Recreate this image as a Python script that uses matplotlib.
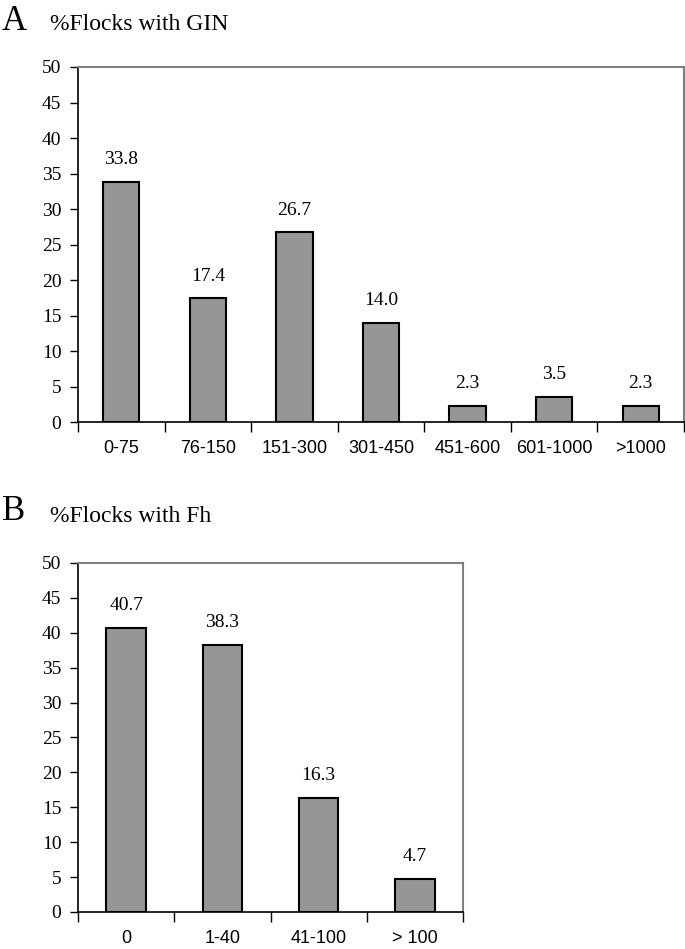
import matplotlib
matplotlib.use("Agg")
import matplotlib.pyplot as plt
import numpy as np

gin_cats = ["0-75", "76-150", "151-300", "301-450", "451-600", "601-1000", ">1000"]
gin_vals = [33.8, 17.4, 26.7, 14.0, 2.3, 3.5, 2.3]

fh_cats = ["0", "1-40", "41-100", "> 100"]
fh_vals = [40.7, 38.3, 16.3, 4.7]

serif = "Liberation Serif"
sans = "Liberation Sans"

fig = plt.figure(figsize=(6.85, 9.49), dpi=100)


def panel(ax, cats, vals, width):
    x = np.arange(len(cats))
    ax.bar(x, vals, width=width, color="#969696", edgecolor="black", linewidth=1.5, zorder=3)
    for xi, v in zip(x, vals):
        ax.annotate("%.1f" % v, (xi, v), xytext=(0, 10), textcoords="offset points",
                    ha="center", va="bottom", family=serif, fontsize=14)
    ax.set_xlim(-0.5, len(cats) - 0.5)
    ax.set_ylim(0, 50)
    ax.set_yticks(range(0, 51, 5))
    ax.set_yticklabels([str(t) for t in range(0, 51, 5)], family=serif, fontsize=14)
    ax.set_xticks(np.arange(len(cats) + 1) - 0.5)
    ax.set_xticklabels([])
    ax.set_xticks(x, minor=True)
    ax.set_xticklabels(cats, minor=True, family=sans, fontsize=13)
    ax.tick_params(axis="x", which="major", direction="out", length=7, width=1)
    ax.tick_params(axis="x", which="minor", length=0, pad=13)
    ax.tick_params(axis="y", direction="out", length=6, width=1, pad=6)
    for s in ["top", "right"]:
        ax.spines[s].set_color("#808080")
        ax.spines[s].set_linewidth(1.5)
    for s in ["left", "bottom"]:
        ax.spines[s].set_color("black")
        ax.spines[s].set_linewidth(1.2)


ax1 = fig.add_axes([0.1139, 0.5553, 0.8847, 0.3741])
panel(ax1, gin_cats, gin_vals, 0.42)

ax2 = fig.add_axes([0.1139, 0.039, 0.562, 0.3678])
panel(ax2, fh_cats, fh_vals, 0.41)

fig.text(0.003, 1 - 22 / 949, "A", family=serif, fontsize=25, va="center", ha="left")
fig.text(0.073, 1 - 24 / 949, "%Flocks with GIN", family=serif, fontsize=17, va="center", ha="left")
fig.text(0.003, 1 - 512 / 949, "B", family=serif, fontsize=25, va="center", ha="left")
fig.text(0.073, 1 - 517 / 949, "%Flocks with Fh", family=serif, fontsize=17, va="center", ha="left")

plt.savefig("out.png", dpi=100)
